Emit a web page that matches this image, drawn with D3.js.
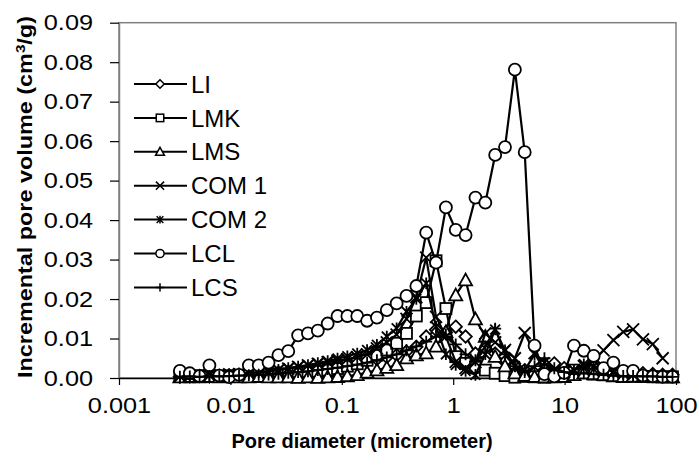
<!DOCTYPE html>
<html>
<head>
<meta charset="utf-8">
<script src="https://cdn.jsdelivr.net/npm/d3@7"></script>
<style>
  body { margin: 0; background: #fff; }
  text { font-family: "Liberation Sans", Arial, sans-serif; fill: #000; }
</style>
</head>
<body>
<div id="chart"></div>
<script>
// pore diameters (micrometer), shared by all series
const diameters = [0.00352,0.00432,0.00529,0.00648,0.00795,0.00974,0.01195,0.01464,0.01795,0.02201,
  0.02698,0.03307,0.04054,0.04969,0.06092,0.07468,0.09155,0.1122,0.1376,0.1687,
  0.2067,0.2534,0.3107,0.3808,0.4669,0.5723,0.7015,0.8600,1.054,1.292,
  1.584,1.942,2.381,2.918,3.578,4.385,5.376,6.591,8.079,9.904,
  12.14,14.88,18.24,22.36,27.42,33.61,41.19,50.50,61.90,75.89,93.03];

const LI = [0.0003,0.0004,0.0005,0.0004,0.0006,0.0007,0.0008,0.0010,0.0011,0.0012,
  0.0014,0.0016,0.0018,0.0020,0.0023,0.0026,0.0030,0.0034,0.0038,0.0043,
  0.0048,0.0053,0.0058,0.0067,0.0079,0.0105,0.0122,0.0115,0.0130,0.0105,
  0.0062,0.0075,0.0062,0.0041,0.0030,0.0020,0.0012,0.0020,0.0037,0.0025,
  0.0012,0.0018,0.0028,0.0020,0.0015,0.0012,0.0010,0.0012,0.0010,0.0008,0.0008];

const LMK = [0.0005,0.0003,0.0006,0.0004,0.0005,0.0006,0.0005,0.0007,0.0008,0.0009,
  0.0010,0.0010,0.0012,0.0014,0.0017,0.0020,0.0024,0.0030,0.0036,0.0045,
  0.0058,0.0071,0.0088,0.0113,0.0157,0.0191,0.0297,0.0176,0.0054,0.0037,
  0.0027,0.0020,0.0012,0.0006,0.0002,0.0004,0.0003,0.0002,0.0004,0.0012,
  0.0020,0.0015,0.0010,0.0008,0.0006,0.0005,0.0004,0.0004,0.0003,0.0003,0.0003];

const LMS = [0.0002,0.0003,0.0002,0.0003,0.0002,0.0003,0.0002,0.0002,0.0003,0.0002,
  0.0002,0.0002,0.0001,0.0002,0.0001,0.0002,0.0003,0.0005,0.0008,0.0014,
  0.0020,0.0026,0.0033,0.0050,0.0058,0.0063,0.0080,0.0117,0.0210,0.0248,
  0.0149,0.0105,0.0054,0.0030,0.0012,0.0006,0.0003,0.0002,0.0002,0.0003,
  0.0008,0.0012,0.0010,0.0008,0.0005,0.0003,0.0004,0.0003,0.0003,0.0002,0.0002];

const COM1 = [0.0004,0.0005,0.0006,0.0007,0.0008,0.0009,0.0010,0.0012,0.0014,0.0017,
  0.0020,0.0024,0.0028,0.0032,0.0036,0.0040,0.0044,0.0048,0.0053,0.0060,
  0.0075,0.0090,0.0110,0.0150,0.0205,0.0305,0.0155,0.0105,0.0041,0.0025,
  0.0040,0.0113,0.0090,0.0071,0.0050,0.0114,0.0063,0.0020,0.0012,0.0015,
  0.0020,0.0030,0.0045,0.0070,0.0096,0.0117,0.0123,0.0098,0.0086,0.0050,null];

const COM2 = [0.0005,0.0006,0.0005,0.0007,0.0008,0.0009,0.0011,0.0013,0.0015,0.0018,
  0.0021,0.0025,0.0029,0.0033,0.0038,0.0043,0.0049,0.0055,0.0062,0.0071,
  0.0084,0.0105,0.0126,0.0168,0.0200,0.0240,0.0130,0.0060,0.0033,0.0018,
  0.0008,0.0060,0.0123,0.0070,0.0030,0.0020,0.0060,0.0040,0.0015,0.0010,
  0.0020,0.0035,0.0030,0.0025,0.0015,0.0010,0.0008,0.0006,0.0005,0.0004,0.0004];

const LCL = [0.0018,0.0012,0.0005,0.0032,0.0006,0.0002,0.0008,0.0032,0.0032,0.0039,
  0.0058,0.0068,0.0108,0.0113,0.0120,0.0138,0.0157,0.0157,0.0157,0.0145,
  0.0153,0.0172,0.0189,0.0208,0.0233,0.0368,0.0292,0.0432,0.0375,0.0362,
  0.0457,0.0444,0.0565,0.0585,0.0781,0.0572,0.0082,0.0010,0.0004,0.0013,
  0.0082,0.0069,0.0056,0.0025,0.0039,0.0018,0.0018,0.0006,0.0004,0.0003,0.0003];

const LCS = [0.0003,0.0004,0.0003,0.0005,0.0004,0.0005,0.0006,0.0007,0.0008,0.0009,
  0.0011,0.0013,0.0015,0.0017,0.0020,0.0023,0.0026,0.0030,0.0034,0.0039,
  0.0045,0.0052,0.0060,0.0070,0.0080,0.0092,0.0105,0.0110,0.0085,0.0060,
  0.0045,0.0080,0.0125,0.0060,0.0030,0.0015,0.0030,0.0050,0.0025,0.0015,
  0.0010,0.0012,0.0010,0.0008,0.0006,0.0005,0.0005,0.0004,0.0004,0.0003,0.0003];

const seriesNames = ["LI", "LMK", "LMS", "COM 1", "COM 2", "LCL", "LCS"];
const seriesValues = [LI, LMK, LMS, COM1, COM2, LCL, LCS];
const seriesMarkers = ["diamond", "square", "triangle", "cross", "star", "circle", "plus"];

const xTicks = [0.001, 0.01, 0.1, 1, 10, 100];
const yTicks = [0, 0.01, 0.02, 0.03, 0.04, 0.05, 0.06, 0.07, 0.08, 0.09];

const W = 699, H = 467;
const plot = {left: 119, right: 676, top: 22.7, bottom: 378};

const svg = d3.select("#chart").append("svg")
    .attr("width", W)
    .attr("height", H);

const x = d3.scaleLog().domain([0.001, 100]).range([plot.left, plot.right]);
const y = d3.scaleLinear().domain([0, 0.09]).range([plot.bottom, plot.top]);

// plot area frame
svg.append("rect")
    .attr("x", plot.left).attr("y", plot.top)
    .attr("width", plot.right - plot.left)
    .attr("height", plot.bottom - plot.top)
    .attr("fill", "none")
    .attr("stroke", "#808080")
    .attr("stroke-width", 1.5);

// y axis
const yAxis = svg.append("g")
    .attr("transform", `translate(${plot.left},0)`)
    .call(d3.axisLeft(y).tickValues(yTicks).tickFormat(d3.format(".2f"))
      .tickSizeInner(9).tickSizeOuter(0).tickPadding(17));
yAxis.select(".domain").attr("stroke", "#808080").attr("stroke-width", 1.5);
yAxis.selectAll(".tick line").attr("stroke", "#000").attr("stroke-width", 1.2);
yAxis.selectAll(".tick text")
    .attr("x", null)
    .attr("transform", "translate(-26,0) scale(1.15,1)")
    .style("font-size", "22px")
    .attr("font-family", null);

// x axis
const xAxis = svg.append("g")
    .attr("transform", `translate(0,${plot.bottom})`)
    .call(d3.axisBottom(x).tickValues(xTicks).tickFormat(d => String(d))
      .tickSizeInner(7).tickSizeOuter(0).tickPadding(12));
xAxis.select(".domain").attr("stroke", "#000").attr("stroke-width", 1.5);
xAxis.selectAll(".tick line").attr("stroke", "#000").attr("stroke-width", 1.2);
xAxis.selectAll(".tick text")
    .attr("y", null)
    .attr("transform", "translate(0,19) scale(1.15,1)")
    .style("font-size", "22px")
    .attr("font-family", null);

// marker shapes
function drawMarker(g, type, s, sw) {
  let el;
  if (type === "circle") {
    el = g.append("circle").attr("r", s).attr("fill", "#fff");
  } else if (type === "square") {
    el = g.append("rect").attr("x", -s).attr("y", -s)
      .attr("width", 2 * s).attr("height", 2 * s).attr("fill", "#fff");
  } else if (type === "diamond") {
    el = g.append("path").attr("d", `M0,${-s}L${s},0L0,${s}L${-s},0Z`).attr("fill", "#fff");
  } else if (type === "triangle") {
    el = g.append("path").attr("d", `M0,${-s}L${s},${s * 0.8}L${-s},${s * 0.8}Z`).attr("fill", "#fff");
  } else if (type === "cross") {
    el = g.append("path").attr("d", `M${-s},${-s}L${s},${s}M${-s},${s}L${s},${-s}`).attr("fill", "none");
  } else if (type === "star") {
    const a = s * 0.85;
    el = g.append("path").attr("d", `M${-a},${-a}L${a},${a}M${-a},${a}L${a},${-a}M0,${-s}L0,${s}`).attr("fill", "none");
  } else if (type === "plus") {
    el = g.append("path").attr("d", `M${-s},0L${s},0M0,${-s}L0,${s}`).attr("fill", "none");
  }
  el.attr("stroke", "#000").attr("stroke-width", sw);
}

const markerSize = {circle: 6, square: 5.5, diamond: 6.2, triangle: 6.5, cross: 6, star: 5.8, plus: 6};

const line = d3.line()
    .defined(d => d.v != null)
    .x(d => x(d.d))
    .y(d => y(d.v));

// series
seriesValues.forEach((vals, i) => {
  const pts = diameters.map((d, j) => ({d: d, v: vals[j]}));
  const g = svg.append("g").attr("class", "series");
  g.append("path")
    .datum(pts)
    .attr("fill", "none")
    .attr("stroke", "#000")
    .attr("stroke-width", 2.2)
    .attr("stroke-linejoin", "round")
    .attr("d", line);
  g.selectAll("g.mk")
    .data(pts.filter(p => p.v != null))
    .join("g")
      .attr("class", "mk")
      .attr("transform", p => `translate(${x(p.d)},${y(p.v)})`)
      .each(function() { drawMarker(d3.select(this), seriesMarkers[i], markerSize[seriesMarkers[i]], 1.8); });
});

// legend
const legend = svg.append("g").attr("transform", "translate(0,84)");
seriesNames.forEach((name, i) => {
  const row = legend.append("g").attr("transform", `translate(0,${i * 33.9})`);
  row.append("line")
    .attr("x1", 134).attr("x2", 187)
    .attr("stroke", "#000").attr("stroke-width", 2);
  const m = row.append("g").attr("transform", "translate(160,0)");
  drawMarker(m, seriesMarkers[i], markerSize[seriesMarkers[i]] * 0.68, 1.5);
  row.append("text")
    .attr("x", 191)
    .attr("dy", "0.36em")
    .style("font-size", "24px")
    .text(name);
});

// axis titles
const yTitle = svg.append("text")
    .attr("transform", "translate(32,197) rotate(-90) scale(1.17,1)")
    .attr("text-anchor", "middle")
    .style("font-size", "20px")
    .style("font-weight", "bold");
yTitle.append("tspan").text("Incremental pore volume (cm");
yTitle.append("tspan").attr("dy", -7).style("font-size", "13px").text("3");
yTitle.append("tspan").attr("dy", 7).text("/g)");

svg.append("text")
    .attr("x", 362)
    .attr("y", 448)
    .attr("text-anchor", "middle")
    .style("font-size", "20px")
    .style("font-weight", "bold")
    .text("Pore diameter (micrometer)");
</script>
</body>
</html>
